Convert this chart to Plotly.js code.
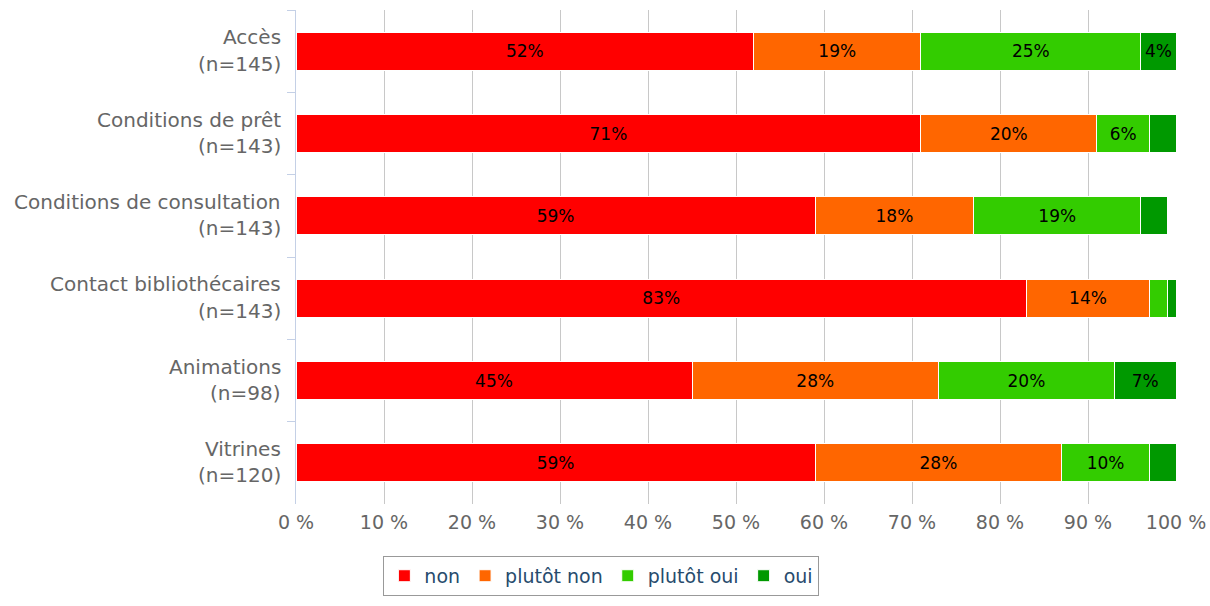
<!DOCTYPE html>
<html>
<head>
<meta charset="utf-8">
<script src="https://cdn.plot.ly/plotly-3.0.1.min.js"></script>
<style>html,body{margin:0;padding:0;background:#fff;}#chart{width:1210px;height:606px;}</style>
</head>
<body>
<div id="chart"></div>
<script>
const categories = ["Accès", "Conditions de prêt", "Conditions de consultation", "Contact bibliothécaires", "Animations", "Vitrines"];
const counts = ["(n=145)", "(n=143)", "(n=143)", "(n=143)", "(n=98)", "(n=120)"];
const seriesNames = ["non", "plutôt non", "plutôt oui", "oui"];
const seriesColors = ["#ff0000", "#ff6600", "#33cc00", "#009900"];
const nonVals = [52, 71, 59, 83, 45, 59];
const plutotNonVals = [19, 20, 18, 14, 28, 28];
const plutotOuiVals = [25, 6, 19, 2, 20, 10];
const ouiVals = [4, 3, 3, 1, 7, 3];
const xTickVals = [0, 10, 20, 30, 40, 50, 60, 70, 80, 90, 100];
const xTickText = ["0 %", "10 %", "20 %", "30 %", "40 %", "50 %", "60 %", "70 %", "80 %", "90 %", "100 %"];

const FONT = "DejaVu Sans, Verdana, sans-serif";
const allVals = [nonVals, plutotNonVals, plutotOuiVals, ouiVals];

const traces = allVals.map((vals, i) => ({
  type: "bar",
  orientation: "h",
  name: seriesNames[i],
  y: categories,
  x: vals,
  marker: {color: seriesColors[i], line: {color: "#ffffff", width: 1}},
  text: vals.map(v => v >= 4 ? v + "%" : ""),
  textposition: "inside",
  insidetextanchor: "middle",
  textangle: 0,
  constraintext: "none",
  textfont: {family: FONT, size: 17, color: "#000000"},
  hoverinfo: "x+name"
}));

const annotations = [];
categories.forEach((c, i) => {
  annotations.push({xref: "paper", yref: "y", x: 0, y: c, xanchor: "right", yanchor: "middle", xshift: -13, yshift: 14, showarrow: false, text: c, font: {family: FONT, size: 20, color: "#666666"}});
  annotations.push({xref: "paper", yref: "y", x: 0, y: c, xanchor: "right", yanchor: "middle", xshift: -13, yshift: -12.5, showarrow: false, text: counts[i], font: {family: FONT, size: 20, color: "#666666"}});
});

const layout = {
  width: 1210, height: 606,
  margin: {l: 296, r: 34, t: 10, b: 102, pad: 0},
  paper_bgcolor: "#ffffff", plot_bgcolor: "#ffffff",
  barmode: "stack",
  bargap: 0.535,
  showlegend: true,
  xaxis: {
    range: [0, 100], tickvals: xTickVals, ticktext: xTickText,
    showgrid: true, gridcolor: "#c8c8c8", gridwidth: 1, zeroline: false,
    ticks: "", ticklabelstandoff: 5,
    tickfont: {family: FONT, size: 19, color: "#666666"},
    fixedrange: true, layer: "below traces"
  },
  yaxis: {
    autorange: "reversed", type: "category",
    showticklabels: false, showgrid: false, zeroline: false,
    showline: true, linecolor: "#c4d0e6", linewidth: 1,
    ticks: "outside", tickson: "boundaries", ticklen: 8, tickcolor: "#c4d0e6", tickwidth: 1
  },
  legend: {
    orientation: "h", x: 0.347, xanchor: "center", y: -0.105, yanchor: "top",
    bordercolor: "#999999", borderwidth: 1, bgcolor: "#ffffff",
    font: {family: FONT, size: 19, color: "#274b6d"},
    traceorder: "normal", itemclick: false
  },
  annotations: annotations
};

Plotly.newPlot("chart", traces, layout, {displayModeBar: false, staticPlot: true});
</script>
</body>
</html>
